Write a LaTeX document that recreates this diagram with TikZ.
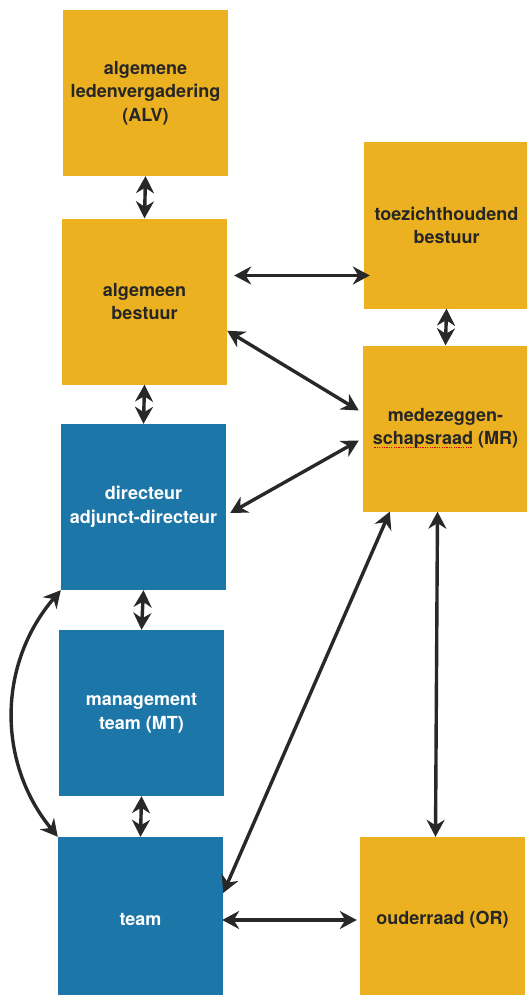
\documentclass[tikz,border=0pt]{standalone}
\usepackage{fontspec}
\setmainfont{TeX Gyre Heros}
\usetikzlibrary{arrows.meta}

\definecolor{raadgeel}{RGB}{235,177,32}
\definecolor{schoolblauw}{RGB}{29,118,168}
\definecolor{pijlgrijs}{RGB}{40,40,40}

% red dotted spell-check line
\newsavebox{\spelbox}
\newcommand{\spelfout}[1]{\sbox{\spelbox}{#1}\rlap{\hbox to \wd\spelbox{\color{red!85!black}%
	\cleaders\hbox to 2.4pt{\hss\rule[-3.5pt]{1.3pt}{1.3pt}\hss}\hfill}}\usebox{\spelbox}}

\begin{document}
\begin{tikzpicture}[x=1pt, y=-1pt, line join=round,
		box/.style={minimum width=165pt, minimum height=166pt, inner sep=0pt, align=center,
			font=\bfseries\fontsize{18}{23.5}\selectfont},
		geel/.style={box, fill=raadgeel, text=black!85},
		blauw/.style={box, fill=schoolblauw, text=white},
		link/.style={pijlgrijs, line width=3.4pt,
			arrows={Stealth[length=17pt,width=18pt]-Stealth[length=17pt,width=18pt]}}]

		\useasboundingbox (0,0) rectangle (527,995);
		\clip (0,0) rectangle (527,995);

		% ================= left column =================
		\node[geel]  (alv)  at (145.5,93)    {algemene\\ledenvergadering\\(ALV)};
		\node[geel]  (ab)   at (144.5,301.5) {algemeen\\bestuur};
		\node[blauw] (dir)  at (143.5,507)   {directeur\\adjunct-directeur};
		\node[blauw] (mt)   at (141.5,713)   {management\\team (MT)};
		\node[blauw] (team) at (140.5,920)   {team};

		% ================= right column =================
		\node[geel] (tb) at (446.5,225.5) {toezichthoudend\\bestuur};
		\node[geel] (mr) at (445.5,428.5) {medezeggen-\\\spelfout{schapsraad} (MR)};
		\node[geel] (or) at (442.5,920)   {ouderraad (OR)};

		% ================= links =================
		\draw[link] (alv.south) -- (ab.north);
		\draw[link] (ab.south) -- (dir.north);
		\draw[link] (dir.south) -- (mt.north);
		\draw[link] (mt.south) -- (team.north);
		\draw[link] (dir.south west) to[bend right=40] (team.north west);

		\draw[link] ([xshift=7pt,yshift=26pt]ab.east) -- ([xshift=6pt,yshift=-50pt]tb.west);
		\draw[link] ([yshift=54pt]ab.south east) -- ([xshift=-4pt,yshift=18pt]mr.west);
		\draw[link] (tb.south) -- (mr.north);
		\draw[link] ([xshift=4pt,yshift=-6pt]dir.east) -- ([xshift=-4pt,yshift=-12pt]mr.west);
		\draw[link] ([xshift=27pt]mr.south west) -- ([yshift=27pt]team.east);
		\draw[link] ([xshift=-8pt]mr.south) -- ([xshift=-7pt]or.north);
		\draw[link] ([xshift=-1pt]team.east) -- ([xshift=-3pt]or.west);

	\end{tikzpicture}
\end{document}
